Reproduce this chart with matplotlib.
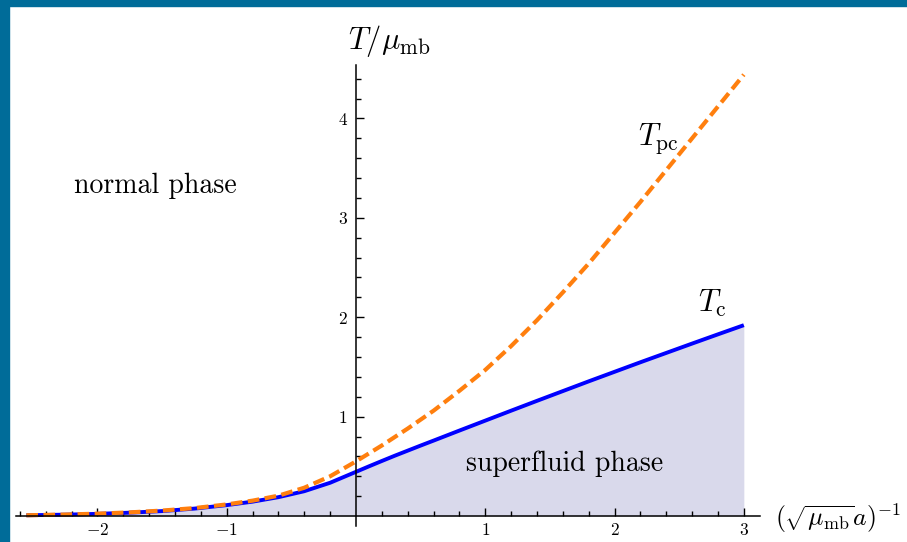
import numpy as np
import matplotlib
matplotlib.use("Agg")
import matplotlib.pyplot as plt
from matplotlib.patches import Rectangle
from matplotlib.ticker import FixedLocator, NullFormatter

plt.rcParams["mathtext.fontset"] = "cm"
plt.rcParams["font.family"] = ["cmr10", "DejaVu Serif"]
plt.rcParams["axes.formatter.use_mathtext"] = True

# Critical temperature T_c (solid, filled region below = superfluid phase)
x_tc = [-2.55, -2.25, -2.0, -1.75, -1.5, -1.25, -1.0, -0.8, -0.6, -0.4, -0.2, 0.0,
        0.1, 0.2, 0.3, 0.4, 0.5, 0.6, 0.8, 1.0, 1.2, 1.4, 1.6, 1.8, 2.0, 2.2,
        2.4, 2.6, 2.8, 3.0]
t_c = [0.008, 0.014, 0.022, 0.034, 0.05, 0.075, 0.11, 0.145, 0.19, 0.25, 0.335, 0.445,
       0.5, 0.554, 0.607, 0.658, 0.709, 0.759, 0.86, 0.96, 1.06, 1.159, 1.257, 1.355,
       1.451, 1.547, 1.641, 1.735, 1.828, 1.92]

# Pair-condensation temperature T_pc (dashed)
x_tpc = [-2.55, -2.25, -2.0, -1.75, -1.5, -1.25, -1.0, -0.8, -0.6, -0.4, -0.2, 0.0,
         0.2, 0.4, 0.6, 0.8, 1.0, 1.2, 1.4, 1.6, 1.8, 2.0, 2.2, 2.4, 2.6, 2.8, 3.0]
t_pc = [0.008, 0.015, 0.024, 0.037, 0.055, 0.08, 0.117, 0.155, 0.205, 0.285, 0.4, 0.55,
        0.71, 0.88, 1.06, 1.26, 1.47, 1.71, 1.97, 2.25, 2.54, 2.85, 3.16, 3.48, 3.8,
        4.12, 4.44]

x_major = [-2, -1, 1, 2, 3]
x_major_labels = [r"$-2$", r"$-1$", r"$1$", r"$2$", r"$3$"]
y_major = [1, 2, 3, 4]
y_major_labels = [r"$1$", r"$2$", r"$3$", r"$4$"]

W, H = 907, 542
fig = plt.figure(figsize=(W / 100, H / 100), dpi=100)
fig.patch.set_facecolor("white")

# slide frame: top band and left band
frame_col = "#006c99"
fig.add_artist(Rectangle((0, 1 - 6 / H), 1, 6 / H, transform=fig.transFigure,
                         color=frame_col, zorder=10))
fig.add_artist(Rectangle((0, 0), 9 / W, 1, transform=fig.transFigure,
                         color=frame_col, zorder=10))

left_px, right_px, top_px, bot_px = 16, 760, 65, 526
ax = fig.add_axes([left_px / W, 1 - bot_px / H,
                   (right_px - left_px) / W, (bot_px - top_px) / H])
ax.set_xlim(-2.63, 3.125)
ax.set_ylim(-0.1, 4.537)
ax.set_facecolor("none")

ax.fill_between(x_tc, 0, t_c, color="#d9d9eb", lw=0, zorder=1)
ax.plot(x_tc, t_c, color="#0000ff", lw=2.8, zorder=3, solid_capstyle="butt",
        solid_joinstyle="round")
ax.plot(x_tpc, t_pc, color="#ff7f0e", lw=3.0, ls=(0, (2.8, 1.3)), zorder=4)

# axes through the origin
for side in ("top", "right"):
    ax.spines[side].set_visible(False)
ax.spines["left"].set_position(("data", 0))
ax.spines["bottom"].set_position(("data", 0))
for side in ("left", "bottom"):
    ax.spines[side].set_linewidth(1.1)
    ax.spines[side].set_zorder(5)

ax.xaxis.set_major_locator(FixedLocator(x_major))
ax.set_xticklabels(x_major_labels)
ax.xaxis.set_minor_locator(FixedLocator(
    [v for v in np.round(np.arange(-2.6, 3.01, 0.2), 1) if abs(v) > 1e-9 and v not in x_major]))
ax.yaxis.set_major_locator(FixedLocator(y_major))
ax.set_yticklabels(y_major_labels)
ax.yaxis.set_minor_locator(FixedLocator(
    [v for v in np.round(np.arange(0.2, 4.41, 0.2), 1) if v not in y_major]))
ax.xaxis.set_minor_formatter(NullFormatter())
ax.yaxis.set_minor_formatter(NullFormatter())

ax.tick_params(axis="both", which="major", direction="in", length=6, width=1.0,
               labelsize=12.5, colors="black")
ax.tick_params(axis="both", which="minor", direction="in", length=3.8, width=1.0)
ax.tick_params(axis="x", which="major", pad=4)
ax.tick_params(axis="y", which="major", pad=6)

# axis labels
ax.text(0.26, 4.78, r"$T/\mu_{\mathrm{mb}}$", fontsize=22, ha="center", va="center",
        clip_on=False)
ax.text(3.24, -0.02, r"$(\sqrt{\mu_{\mathrm{mb}}}a)^{-1}$", fontsize=18.5, ha="left",
        va="center", clip_on=False)

# curve labels
ax.text(2.34, 3.80, r"$T_{\mathrm{pc}}$", fontsize=22, ha="center", va="center")
ax.text(2.76, 2.14, r"$T_{\mathrm{c}}$", fontsize=22, ha="center", va="center")

# phase labels
ax.text(-1.55, 3.32, "normal phase", fontsize=20, ha="center", va="center")
ax.text(1.61, 0.53, "superfluid phase", fontsize=20, ha="center", va="center")

fig.savefig("out.png", dpi=100)
